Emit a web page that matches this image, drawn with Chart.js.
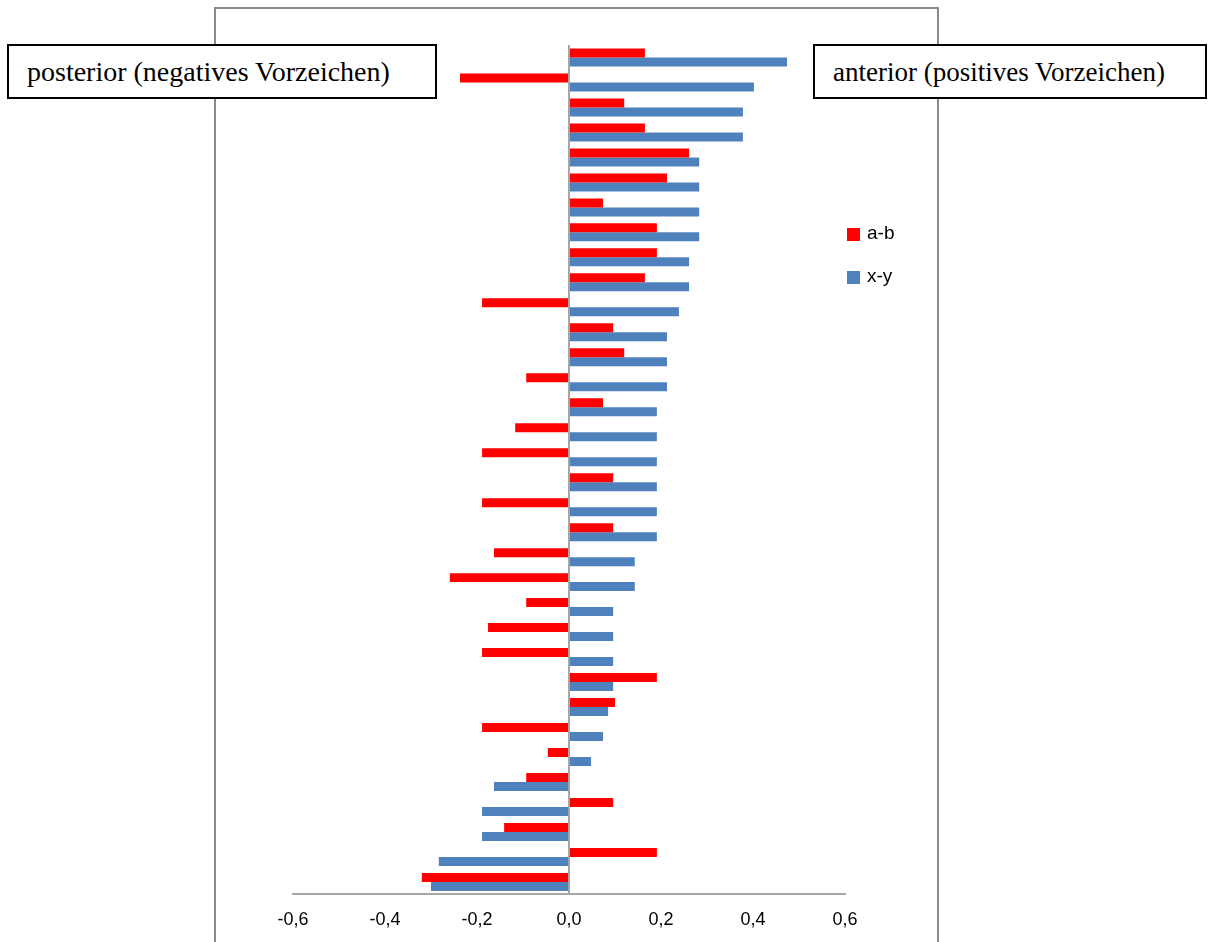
<!DOCTYPE html>
<html>
<head>
<meta charset="utf-8">
<script src="https://cdn.jsdelivr.net/npm/chart.js@4"></script>
<style>
  body { margin: 0; background: #fff; width: 1214px; height: 942px; overflow: hidden; position: relative; }
  #frame { position: absolute; left: 214px; top: 7px; width: 725px; height: 1000px; border: 2px solid #8a8a8a; box-sizing: border-box; }
  #wrap { position: absolute; left: 0; top: 0; width: 1214px; height: 942px; }
  .box { position: absolute; top: 44px; height: 55px; border: 2px solid #000; background: #fff; box-sizing: border-box;
         font-family: "Liberation Serif", "Times New Roman", serif; line-height: 52px; padding-left: 18px; color: #000; }
  #left { left: 7px; width: 430px; font-size: 28px; }
  #right { left: 813px; width: 394px; font-size: 27px; }
</style>
</head>
<body>
<div id="frame"></div>
<div id="wrap"><canvas id="myChart" width="1214" height="942"></canvas></div>
<div class="box" id="left">posterior (negatives Vorzeichen)</div>
<div class="box" id="right">anterior (positives Vorzeichen)</div>
<script>
// 34 rows, top to bottom
const categories = ['1','2','3','4','5','6','7','8','9','10','11','12','13','14','15','16','17',
	'18','19','20','21','22','23','24','25','26','27','28','29','30','31','32','33','34'];

const abValues = [0.165, -0.237, 0.120, 0.165, 0.261, 0.213, 0.074, 0.191, 0.191, 0.165,
	-0.189, 0.096, 0.120, -0.093, 0.074, -0.117, -0.189, 0.096, -0.189, 0.096,
	-0.163, -0.259, -0.093, -0.176, -0.189, 0.191, 0.100, -0.189, -0.046, -0.093,
	0.096, -0.141, 0.191, -0.320];

const xyValues = [0.474, 0.402, 0.378, 0.378, 0.283, 0.283, 0.283, 0.283, 0.261, 0.261,
	0.239, 0.213, 0.213, 0.213, 0.191, 0.191, 0.191, 0.191, 0.191, 0.191,
	0.143, 0.143, 0.096, 0.096, 0.096, 0.096, 0.085, 0.074, 0.048, -0.163,
	-0.189, -0.189, -0.283, -0.300];

const seriesNames = ['a-b', 'x-y'];
const xMin = -0.6;
const xMax = 0.6;
const xStep = 0.2;

function tickLabel(v) {
	return v.toFixed(1).replace('.', ',');
}

// legend drawn inside the canvas, like the Excel one
const sideLegend = {
	id: 'sideLegend',
	afterDraw(chart) {
		const ctx = chart.ctx;
		ctx.save();
		ctx.font = '19px "Liberation Sans", Arial, sans-serif';
		ctx.textBaseline = 'middle';
		chart.data.datasets.forEach((ds, i) => {
			const y = 234 + i * 43;
			ctx.fillStyle = ds.backgroundColor;
			ctx.fillRect(847, y - 6, 13, 13);
			ctx.fillStyle = '#000';
			ctx.fillText(ds.label, 867, y);
		});
		ctx.restore();
	}
};

const ctx = document.getElementById('myChart').getContext('2d');
const myChart = new Chart(ctx, {
	type: 'bar',
	data: {
		labels: categories,
		datasets: [{
			label: seriesNames[0],
			data: abValues,
			backgroundColor: '#FF0000',
			categoryPercentage: 0.72,
			barPercentage: 1.0
		}, {
			label: seriesNames[1],
			data: xyValues,
			backgroundColor: '#4F81BD',
			categoryPercentage: 0.72,
			barPercentage: 1.0
		}]
	},
	options: {
		indexAxis: 'y',
		responsive: false,
		animation: false,
		layout: {
			padding: { left: 293, right: 369, top: 45, bottom: -4 }
		},
		plugins: {
			legend: { display: false },
			tooltip: { enabled: false }
		},
		scales: {
			x: {
				min: xMin,
				max: xMax,
				ticks: {
					stepSize: xStep,
					callback: v => tickLabel(v),
					color: '#000',
					font: { family: '"Liberation Sans", Arial, sans-serif', size: 18 },
					padding: 15
				},
				grid: {
					drawTicks: false,
					color: c => (c.tick && Math.abs(c.tick.value) < 1e-9 ? '#a6a6a6' : 'rgba(0,0,0,0)'),
					lineWidth: 2
				},
				border: { display: true, color: '#a6a6a6', width: 2 }
			},
			y: {
				display: false
			}
		}
	},
	plugins: [sideLegend]
});
</script>
</body>
</html>
